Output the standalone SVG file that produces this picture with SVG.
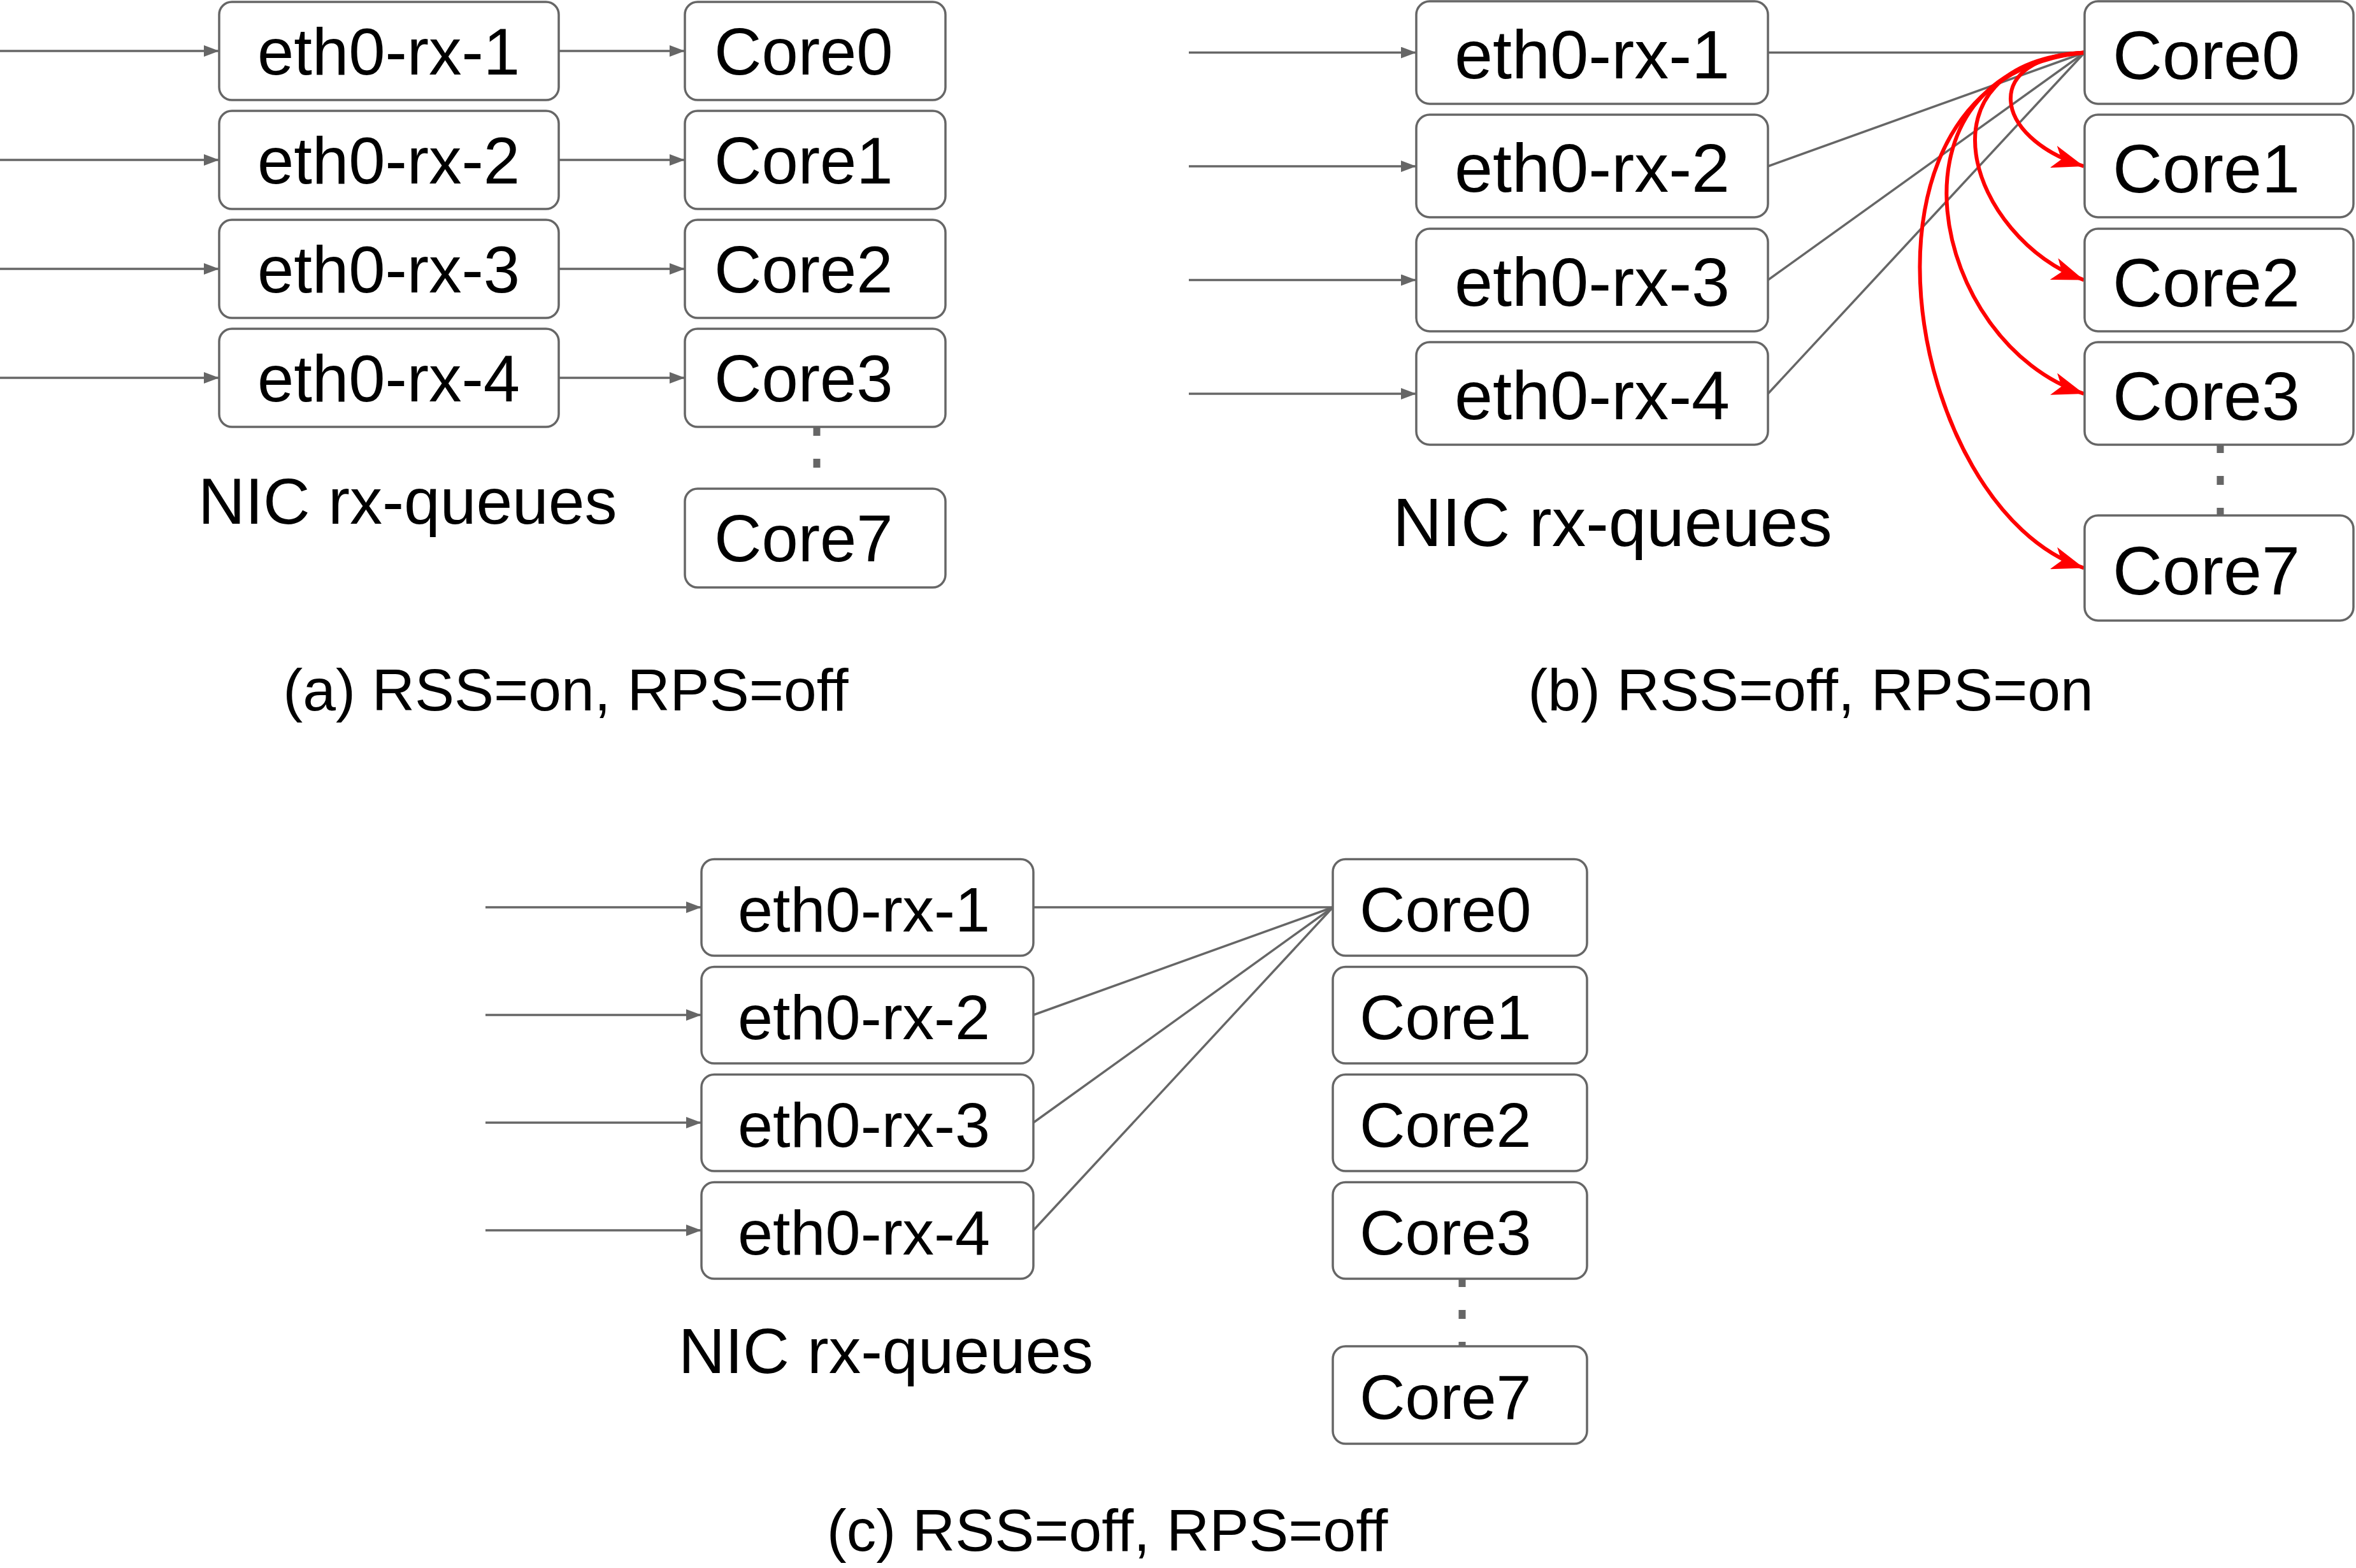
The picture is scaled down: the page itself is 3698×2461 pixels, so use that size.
<svg xmlns="http://www.w3.org/2000/svg" width="3698" height="2461" viewBox="0 0 3698 2461">
<style>
.box{fill:#fff;stroke:#666;stroke-width:3.5}
.lbl{font-family:"Liberation Sans",Arial,sans-serif;fill:#000}
.ln{fill:none;stroke:#666;stroke-width:3.5}
.arr{fill:none;stroke:#666;stroke-width:3.5;marker-end:url(#ga)}
.red{fill:none;stroke:#ff0000;stroke-width:6;marker-end:url(#ra)}
.dot{fill:none;stroke:#666;stroke-width:11;stroke-dasharray:14 36}
</style>
<defs>
<marker id="ga" markerUnits="userSpaceOnUse" markerWidth="24" markerHeight="18" viewBox="0 0 24 18" refX="24" refY="9" orient="auto">
<path d="M0,0 L24,9 L0,18 z" fill="#666"/>
</marker>
<marker id="ra" markerUnits="userSpaceOnUse" markerWidth="50" markerHeight="36" viewBox="0 0 50 36" refX="50" refY="18" orient="auto">
<path d="M0,0 L50,18 L0,36 L13,18 z" fill="#ff0000"/>
</marker>
</defs>
<rect width="3698" height="2461" fill="#fff"/>

<g id="connectors">
<!-- panel a -->
<line class="arr" x1="0" y1="80" x2="344" y2="80"/>
<line class="arr" x1="0" y1="251" x2="344" y2="251"/>
<line class="arr" x1="0" y1="422" x2="344" y2="422"/>
<line class="arr" x1="0" y1="593" x2="344" y2="593"/>
<line class="arr" x1="877" y1="80" x2="1075" y2="80"/>
<line class="arr" x1="877" y1="251" x2="1075" y2="251"/>
<line class="arr" x1="877" y1="422" x2="1075" y2="422"/>
<line class="arr" x1="877" y1="593" x2="1075" y2="593"/>
<line class="dot" x1="1282" y1="670" x2="1282" y2="767"/>
<!-- panel b -->
<line class="arr" x1="1866" y1="82.5" x2="2223" y2="82.5"/>
<line class="arr" x1="1866" y1="261" x2="2223" y2="261"/>
<line class="arr" x1="1866" y1="439.5" x2="2223" y2="439.5"/>
<line class="arr" x1="1866" y1="618" x2="2223" y2="618"/>
<line class="ln" x1="2775" y1="82.5" x2="3272" y2="82.5"/>
<line class="ln" x1="2775" y1="261" x2="3272" y2="82.5"/>
<line class="ln" x1="2775" y1="439.5" x2="3272" y2="82.5"/>
<line class="ln" x1="2775" y1="618" x2="3272" y2="82.5"/>
<path class="red" d="M3272,82.5 C3110,90 3125,215 3271,261"/>
<path class="red" d="M3272,82.5 C3000,100 3090,372 3271,439.5"/>
<path class="red" d="M3272,82.5 C2940,110 3030,540 3271,618"/>
<path class="red" d="M3272,82.5 C2870,120 2990,800 3271,891.5"/>
<line class="dot" x1="3485" y1="697" x2="3485" y2="809"/>
<!-- panel c -->
<line class="arr" x1="762" y1="1424" x2="1101" y2="1424"/>
<line class="arr" x1="762" y1="1593" x2="1101" y2="1593"/>
<line class="arr" x1="762" y1="1762" x2="1101" y2="1762"/>
<line class="arr" x1="762" y1="1931" x2="1101" y2="1931"/>
<line class="ln" x1="1622" y1="1424" x2="2092" y2="1424"/>
<line class="ln" x1="1622" y1="1593" x2="2092" y2="1424"/>
<line class="ln" x1="1622" y1="1762" x2="2092" y2="1424"/>
<line class="ln" x1="1622" y1="1931" x2="2092" y2="1424"/>
<line class="dot" x1="2295" y1="2006" x2="2295" y2="2113"/>
</g>

<!-- Panel (a) -->
<g id="a-eth0-rx-1"><rect class="box" x="344" y="3" width="533" height="154" rx="20"/><text class="lbl" x="404" y="117" font-size="103">eth0-rx-1</text></g>
<g id="a-eth0-rx-2"><rect class="box" x="344" y="174" width="533" height="154" rx="20"/><text class="lbl" x="404" y="288" font-size="103">eth0-rx-2</text></g>
<g id="a-eth0-rx-3"><rect class="box" x="344" y="345" width="533" height="154" rx="20"/><text class="lbl" x="404" y="459" font-size="103">eth0-rx-3</text></g>
<g id="a-eth0-rx-4"><rect class="box" x="344" y="516" width="533" height="154" rx="20"/><text class="lbl" x="404" y="630" font-size="103">eth0-rx-4</text></g>
<g id="a-core0"><rect class="box" x="1075" y="3" width="409" height="154" rx="20"/><text class="lbl" x="1121" y="117" font-size="103">Core0</text></g>
<g id="a-core1"><rect class="box" x="1075" y="174" width="409" height="154" rx="20"/><text class="lbl" x="1121" y="288" font-size="103">Core1</text></g>
<g id="a-core2"><rect class="box" x="1075" y="345" width="409" height="154" rx="20"/><text class="lbl" x="1121" y="459" font-size="103">Core2</text></g>
<g id="a-core3"><rect class="box" x="1075" y="516" width="409" height="154" rx="20"/><text class="lbl" x="1121" y="630" font-size="103">Core3</text></g>
<g id="a-core7"><rect class="box" x="1075" y="767" width="409" height="155" rx="20"/><text class="lbl" x="1121" y="881" font-size="103">Core7</text></g>
<g id="a-labels">
<text class="lbl" x="311" y="822" font-size="102">NIC rx-queues</text>
<text class="lbl" x="888" y="1115" font-size="93" text-anchor="middle">(a) RSS=on, RPS=off</text>
</g>

<!-- Panel (b) -->
<g id="b-eth0-rx-1"><rect class="box" x="2223" y="2" width="552" height="161" rx="21"/><text class="lbl" x="2283" y="123" font-size="108">eth0-rx-1</text></g>
<g id="b-eth0-rx-2"><rect class="box" x="2223" y="180" width="552" height="161" rx="21"/><text class="lbl" x="2283" y="301" font-size="108">eth0-rx-2</text></g>
<g id="b-eth0-rx-3"><rect class="box" x="2223" y="359" width="552" height="161" rx="21"/><text class="lbl" x="2283" y="480" font-size="108">eth0-rx-3</text></g>
<g id="b-eth0-rx-4"><rect class="box" x="2223" y="537" width="552" height="161" rx="21"/><text class="lbl" x="2283" y="658" font-size="108">eth0-rx-4</text></g>
<g id="b-core0"><rect class="box" x="3272" y="2" width="422" height="161" rx="21"/><text class="lbl" x="3316" y="124" font-size="108">Core0</text></g>
<g id="b-core1"><rect class="box" x="3272" y="180" width="422" height="161" rx="21"/><text class="lbl" x="3316" y="302" font-size="108">Core1</text></g>
<g id="b-core2"><rect class="box" x="3272" y="359" width="422" height="161" rx="21"/><text class="lbl" x="3316" y="481" font-size="108">Core2</text></g>
<g id="b-core3"><rect class="box" x="3272" y="537" width="422" height="161" rx="21"/><text class="lbl" x="3316" y="659" font-size="108">Core3</text></g>
<g id="b-core7"><rect class="box" x="3272" y="809" width="422" height="165" rx="21"/><text class="lbl" x="3316" y="933" font-size="108">Core7</text></g>
<g id="b-labels">
<text class="lbl" x="2186" y="857" font-size="107">NIC rx-queues</text>
<text class="lbl" x="2842" y="1115" font-size="93" text-anchor="middle">(b) RSS=off, RPS=on</text>
</g>

<!-- Panel (c) -->
<g id="c-eth0-rx-1"><rect class="box" x="1101" y="1348.5" width="521" height="151.5" rx="20"/><text class="lbl" x="1158" y="1462" font-size="99">eth0-rx-1</text></g>
<g id="c-eth0-rx-2"><rect class="box" x="1101" y="1517.5" width="521" height="151.5" rx="20"/><text class="lbl" x="1158" y="1631" font-size="99">eth0-rx-2</text></g>
<g id="c-eth0-rx-3"><rect class="box" x="1101" y="1686.5" width="521" height="151.5" rx="20"/><text class="lbl" x="1158" y="1800" font-size="99">eth0-rx-3</text></g>
<g id="c-eth0-rx-4"><rect class="box" x="1101" y="1855.5" width="521" height="151.5" rx="20"/><text class="lbl" x="1158" y="1969" font-size="99">eth0-rx-4</text></g>
<g id="c-core0"><rect class="box" x="2092" y="1348.5" width="399" height="151.5" rx="20"/><text class="lbl" x="2134" y="1462" font-size="99">Core0</text></g>
<g id="c-core1"><rect class="box" x="2092" y="1517.5" width="399" height="151.5" rx="20"/><text class="lbl" x="2134" y="1631" font-size="99">Core1</text></g>
<g id="c-core2"><rect class="box" x="2092" y="1686.5" width="399" height="151.5" rx="20"/><text class="lbl" x="2134" y="1800" font-size="99">Core2</text></g>
<g id="c-core3"><rect class="box" x="2092" y="1855.5" width="399" height="151.5" rx="20"/><text class="lbl" x="2134" y="1969" font-size="99">Core3</text></g>
<g id="c-core7"><rect class="box" x="2092" y="2113" width="399" height="153" rx="20"/><text class="lbl" x="2134" y="2227" font-size="99">Core7</text></g>
<g id="c-labels">
<text class="lbl" x="1065" y="2155" font-size="101">NIC rx-queues</text>
<text class="lbl" x="1738" y="2434" font-size="93" text-anchor="middle">(c) RSS=off, RPS=off</text>
</g>
</svg>
